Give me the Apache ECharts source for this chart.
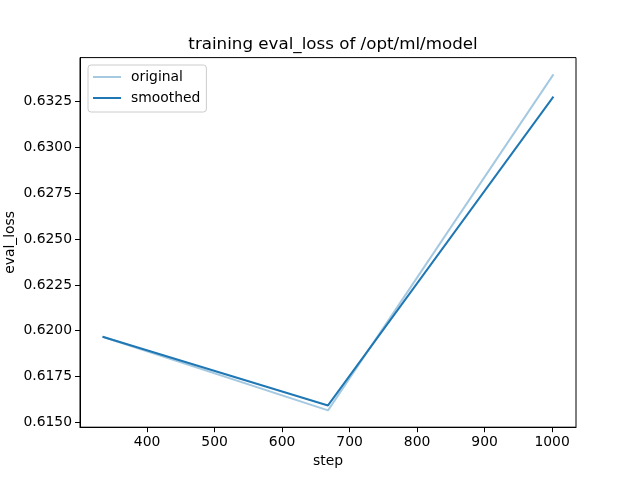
<!DOCTYPE html>
<html>
<head>
<meta charset="utf-8">
<script src="https://cdn.jsdelivr.net/npm/echarts@6/dist/echarts.min.js"></script>
<style>html,body{margin:0;padding:0;background:#fff;}#c{width:640px;height:480px;}</style>
</head>
<body>
<div id="c"></div>
<script>
const steps = [334, 668, 1002];
const original = [0.61967, 0.61565, 0.63399];
const smoothed = [0.61967, 0.61592, 0.63278];
const xTicks = [400, 500, 600, 700, 800, 900, 1000];
const yTicks = [0.6150, 0.6175, 0.6200, 0.6225, 0.6250, 0.6275, 0.6300, 0.6325];

const FONT = 'DejaVu Sans';
const allY = original.concat(smoothed);
const yLo = Math.min(...allY), yHi = Math.max(...allY);
const yM = (yHi - yLo) * 0.05;
const xLo = Math.min(...steps), xHi = Math.max(...steps);
const xM = (xHi - xLo) * 0.05;

const chart = echarts.init(document.getElementById('c'), null, {renderer: 'canvas'});
chart.setOption({
  animation: false,
  backgroundColor: '#ffffff',
  textStyle: {fontFamily: FONT},
  title: {
    text: 'training eval_loss of /opt/ml/model',
    left: 328, top: 31, textAlign: 'center',
    textStyle: {fontFamily: FONT, fontSize: 16.7, fontWeight: 'normal', color: '#000'}
  },
  grid: {left: 80, right: 64, top: 57.6, bottom: 52.8, show: true, borderColor: '#000', borderWidth: 1,
         containLabel: false, outerBoundsMode: 'none'},
  legend: {
    orient: 'vertical', left: 88, top: 65,
    data: [{name: 'original', icon: 'rect'}, {name: 'smoothed', icon: 'rect'}],
    itemWidth: 28, itemHeight: 2, itemGap: 7,
    padding: [5, 6, 7, 5],
    borderColor: '#cccccc', borderWidth: 1, borderRadius: 3,
    backgroundColor: '#ffffff',
    textStyle: {fontFamily: FONT, fontSize: 13.9, color: '#000', padding: [0, 0, 0, 5]}
  },
  xAxis: {
    type: 'value', min: xLo - xM, max: xHi + xM,
    name: 'step', nameLocation: 'middle', nameGap: 26,
    nameTextStyle: {fontFamily: FONT, fontSize: 13.9, color: '#000'},
    axisLine: {show: true, lineStyle: {color: '#000', width: 1}},
    axisTick: {show: true, inside: false, length: 5, customValues: xTicks, lineStyle: {color: '#000'}},
    axisLabel: {customValues: xTicks, margin: 8, fontFamily: FONT, fontSize: 13.9, color: '#000',
      formatter: v => String(Math.round(v))},
    splitLine: {show: false}
  },
  yAxis: {
    type: 'value', min: yLo - yM, max: yHi + yM,
    name: 'eval_loss', nameLocation: 'middle', nameGap: 70, nameRotate: 90, nameMoveOverlap: false,
    nameTextStyle: {fontFamily: FONT, fontSize: 13.9, color: '#000', verticalAlign: 'middle'},
    axisLine: {show: true, lineStyle: {color: '#000', width: 1}},
    axisTick: {show: true, inside: false, length: 5, customValues: yTicks, lineStyle: {color: '#000'}},
    axisLabel: {customValues: yTicks, margin: 8, fontFamily: FONT, fontSize: 13.9, color: '#000',
      formatter: v => v.toFixed(4)},
    splitLine: {show: false}
  },
  series: [
    {name: 'original', type: 'line', symbol: 'none', data: steps.map((s, i) => [s, original[i]]),
     lineStyle: {color: '#a5c9e1', width: 2}, itemStyle: {color: '#a5c9e1'}},
    {name: 'smoothed', type: 'line', symbol: 'none', data: steps.map((s, i) => [s, smoothed[i]]),
     lineStyle: {color: '#1f77b4', width: 2}, itemStyle: {color: '#1f77b4'}}
  ]
});
</script>
</body>
</html>
